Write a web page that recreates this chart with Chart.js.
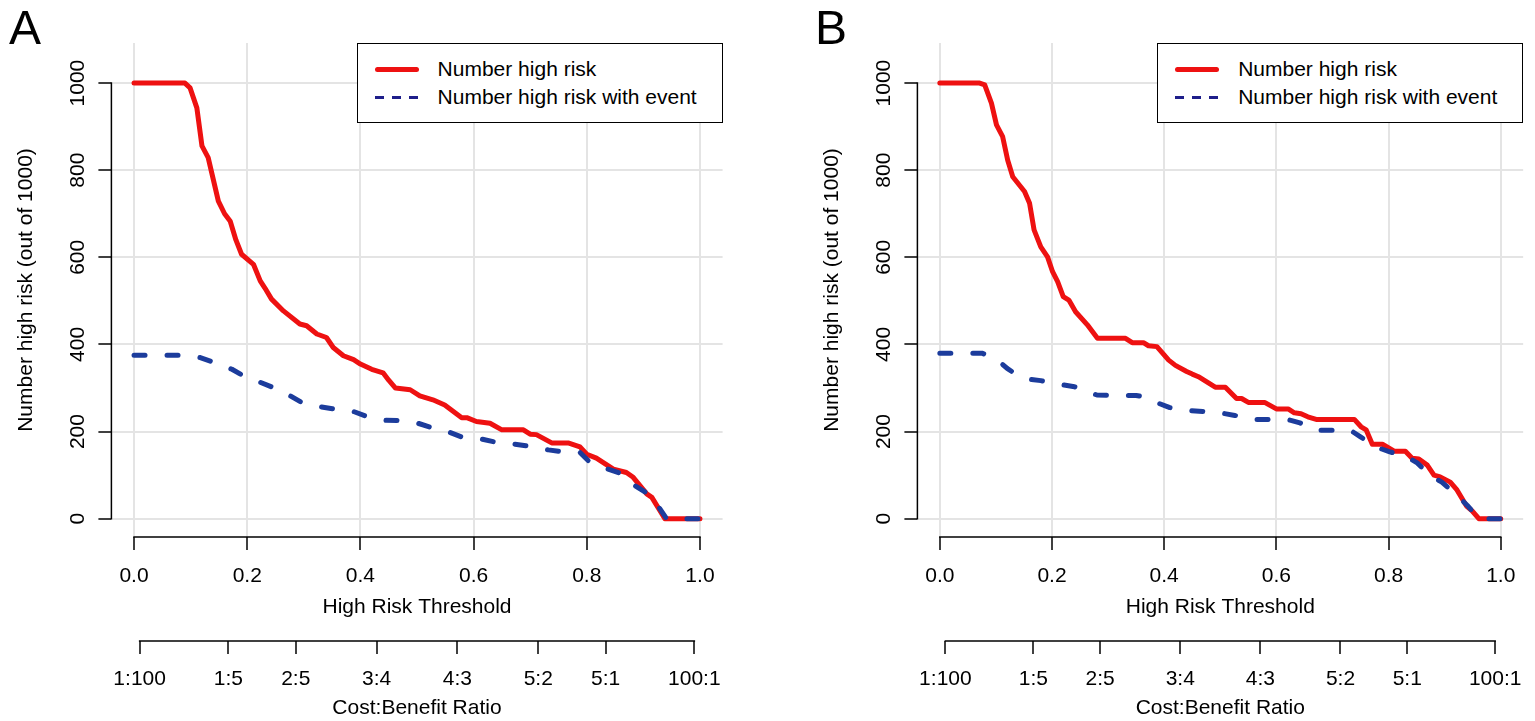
<!DOCTYPE html>
<html>
<head>
<meta charset="utf-8">
<script src="https://cdn.jsdelivr.net/npm/chart.js@4.4.1/dist/chart.umd.min.js"></script>
<style>
  html, body { margin: 0; padding: 0; background: #fff; }
  body { width: 1535px; height: 721px; position: relative; overflow: hidden; font-family: "Liberation Sans", Arial, sans-serif; color: #000; }
  .panel { position: absolute; top: 0; height: 721px; }
  .letter { position: absolute; top: 4px; font-size: 48px; line-height: 1; }
  .legend { position: absolute; top: 43px; width: 366px; height: 80px; box-sizing: border-box; border: 1.5px solid #000; background: #fff; }
  .legend .sample { position: absolute; left: 17px; width: 44px; }
  .legend .txt { position: absolute; left: 80px; font-size: 21px; line-height: 28px; white-space: nowrap; }
</style>
</head>
<body>
<div class="panel" id="panelA" style="left:0;width:767px"><canvas id="chartA"></canvas></div>
<div class="panel" id="panelB" style="left:767px;width:768px"><canvas id="chartB"></canvas></div>
<div class="letter" style="left:9px">A</div>
<div class="letter" style="left:815px">B</div>

<script>
// --- dados ---
const thrTicks = [0, 0.2, 0.4, 0.6, 0.8, 1.0];
const riskTicks = [0, 200, 400, 600, 800, 1000];
const cbTicks = [0.0099, 0.1667, 0.2857, 0.4286, 0.5714, 0.7143, 0.8333, 0.9901];
const cbLabels = ['1:100', '1:5', '2:5', '3:4', '4:3', '5:2', '5:1', '100:1'];
const seriesNames = ['Number high risk', 'Number high risk with event'];

// Painel A
const aRiskX = [0, 0.09, 0.099, 0.111, 0.120, 0.131, 0.149, 0.160, 0.170, 0.180, 0.190, 0.211, 0.223, 0.231, 0.243, 0.264, 0.293, 0.305, 0.323, 0.340, 0.352, 0.370, 0.388, 0.400, 0.420, 0.440, 0.450, 0.462, 0.488, 0.505, 0.528, 0.549, 0.579, 0.588, 0.605, 0.629, 0.650, 0.688, 0.700, 0.711, 0.738, 0.767, 0.788, 0.800, 0.817, 0.847, 0.870, 0.882, 0.906, 0.915, 0.938, 1.0];
const aRiskY = [1000, 1000, 989, 943, 856, 829, 729, 700, 683, 640, 607, 584, 546, 530, 504, 477, 447, 443, 424, 416, 393, 374, 365, 355, 343, 335, 318, 300, 296, 282, 273, 261, 232, 232, 223, 219, 204, 204, 194, 193, 174, 174, 165, 148, 139, 114, 106, 95, 57, 49, 0, 0];
const aEventX = [0, 0.086, 0.117, 0.143, 0.173, 0.193, 0.210, 0.223, 0.246, 0.276, 0.296, 0.329, 0.352, 0.388, 0.411, 0.443, 0.470, 0.502, 0.526, 0.558, 0.582, 0.614, 0.641, 0.673, 0.700, 0.732, 0.756, 0.788, 0.806, 0.837, 0.862, 0.885, 0.908, 0.929, 0.941, 1.0];
const aEventY = [375, 375, 370, 358, 343, 328, 318, 313, 301, 282, 267, 257, 252, 246, 235, 226, 225, 219, 209, 198, 186, 183, 175, 171, 166, 158, 154, 152, 129, 114, 103, 76, 57, 23, 0, 0];

// Painel B
const bRiskX = [0, 0.071, 0.080, 0.092, 0.101, 0.112, 0.121, 0.130, 0.151, 0.160, 0.168, 0.180, 0.192, 0.201, 0.210, 0.220, 0.230, 0.242, 0.263, 0.281, 0.331, 0.343, 0.363, 0.372, 0.387, 0.408, 0.420, 0.440, 0.450, 0.461, 0.491, 0.509, 0.529, 0.538, 0.550, 0.579, 0.600, 0.621, 0.632, 0.644, 0.656, 0.671, 0.739, 0.751, 0.760, 0.771, 0.789, 0.810, 0.830, 0.842, 0.854, 0.869, 0.881, 0.892, 0.910, 0.922, 0.939, 0.949, 0.961, 1.0];
const bRiskY = [1000, 1000, 996, 954, 904, 877, 823, 785, 751, 724, 663, 624, 601, 567, 544, 510, 502, 475, 445, 414, 414, 404, 404, 397, 395, 364, 352, 338, 332, 326, 302, 302, 276, 276, 267, 267, 252, 252, 243, 241, 234, 228, 228, 211, 204, 171, 171, 155, 155, 139, 137, 123, 100, 96, 84, 66, 29, 18, 0, 0];
const bEventX = [0, 0.075, 0.090, 0.105, 0.120, 0.140, 0.160, 0.180, 0.200, 0.220, 0.240, 0.260, 0.280, 0.300, 0.350, 0.370, 0.390, 0.410, 0.430, 0.470, 0.500, 0.526, 0.559, 0.585, 0.617, 0.642, 0.674, 0.732, 0.750, 0.777, 0.801, 0.833, 0.851, 0.878, 0.895, 0.922, 0.940, 0.961, 1.0];
const bEventY = [380, 380, 372, 362, 345, 328, 320, 317, 312, 307, 303, 293, 284, 283, 283, 278, 265, 255, 250, 246, 243, 237, 228, 228, 229, 220, 203, 203, 188, 165, 154, 142, 128, 96, 84, 54, 31, 0, 0];

const riskColor = '#ee1111';
const eventColor = '#1c3c9c';
const legendDashColor = '#1e1e8a';

Chart.defaults.font.family = '"Liberation Sans", Arial, sans-serif';
Chart.defaults.font.size = 21;
Chart.defaults.color = '#000';

function pts(xs, ys) {
  return xs.map((x, i) => ({ x: x, y: ys[i] }));
}

// linha do eixo só entre o primeiro e o último tick, como no R
const axisLines = {
  id: 'axisLines',
  afterDraw(chart) {
    const ctx = chart.ctx;
    ctx.save();
    ctx.strokeStyle = '#000';
    ctx.lineWidth = 1.5;
    ['x', 'x2', 'y'].forEach(id => {
      const s = chart.scales[id];
      const first = s.ticks[0].value;
      const last = s.ticks[s.ticks.length - 1].value;
      ctx.beginPath();
      if (s.isHorizontal()) {
        ctx.moveTo(s.getPixelForValue(first) - 0.75, s.top);
        ctx.lineTo(s.getPixelForValue(last) + 0.75, s.top);
      } else {
        ctx.moveTo(s.right, s.getPixelForValue(first) + 0.75);
        ctx.lineTo(s.right, s.getPixelForValue(last) - 0.75);
      }
      ctx.stroke();
    });
    ctx.restore();
  }
};

function tickGrid(onArea) {
  return { drawOnChartArea: onArea, color: '#e4e4e4', lineWidth: 2, tickColor: '#000', tickWidth: 1.5, tickLength: 13 };
}

function criarGrafico(canvasId, panelId, riskX, riskY, eventX, eventY, padLeft, padRight) {
  const chart = new Chart(document.getElementById(canvasId), {
    type: 'line',
    data: {
      datasets: [
        { label: seriesNames[0], data: pts(riskX, riskY), borderColor: riskColor, borderWidth: 5,
          pointRadius: 0, tension: 0, borderJoinStyle: 'round', borderCapStyle: 'round', order: 1 },
        { label: seriesNames[1], data: pts(eventX, eventY), borderColor: eventColor, borderWidth: 5,
          borderDash: [11, 22], pointRadius: 0, tension: 0, borderJoinStyle: 'round', borderCapStyle: 'round', order: 0 }
      ]
    },
    options: {
      responsive: true,
      maintainAspectRatio: false,
      animation: false,
      events: [],
      layout: { padding: { left: padLeft, right: padRight, top: 43, bottom: 0 } },
      plugins: { legend: { display: false }, tooltip: { enabled: false } },
      scales: {
        x: {
          type: 'linear', position: 'bottom', min: -0.04, max: 1.04, weight: 0,
          afterBuildTicks: s => { s.ticks = thrTicks.map(v => ({ value: v })); },
          afterFit: s => { s.height = 104; },
          border: { display: false },
          grid: tickGrid(true),
          ticks: { padding: 14, maxRotation: 0, autoSkip: false, callback: v => v.toFixed(1) },
          title: { display: true, text: 'High Risk Threshold', padding: { top: 0, bottom: 21 } }
        },
        x2: {
          type: 'linear', position: 'bottom', min: -0.04, max: 1.04, weight: 1,
          afterBuildTicks: s => { s.ticks = cbTicks.map(v => ({ value: v })); },
          afterFit: s => { s.height = 80; },
          border: { display: false },
          grid: tickGrid(false),
          ticks: { padding: 13, maxRotation: 0, autoSkip: false, callback: (v, i) => cbLabels[i] },
          title: { display: true, text: 'Cost:Benefit Ratio', padding: { top: 0, bottom: 0 } }
        },
        y: {
          type: 'linear', position: 'left', min: -42, max: 1092,
          afterBuildTicks: s => { s.ticks = riskTicks.map(v => ({ value: v })); },
          afterFit: s => { s.width = 111.4; },
          border: { display: false },
          grid: tickGrid(true),
          ticks: { minRotation: 90, maxRotation: 90, crossAlign: 'center', padding: -3, autoSkip: false, callback: v => String(v) },
          title: { display: true, text: 'Number high risk (out of 1000)', padding: { top: 14, bottom: 0 } }
        }
      }
    },
    plugins: [axisLines]
  });

  // legenda em HTML, no canto superior direito da área do gráfico
  const area = chart.chartArea;
  const leg = document.createElement('div');
  leg.className = 'legend';
  leg.style.left = (area.right - 366) + 'px';
  chart.data.datasets.forEach((ds, i) => {
    const yc = 25 + i * 28;
    const sample = document.createElement('div');
    sample.className = 'sample';
    if (ds.borderDash) {
      sample.style.top = (yc - 1) + 'px';
      sample.style.height = '2.5px';
      sample.style.background = 'repeating-linear-gradient(to right, ' + legendDashColor + ' 0 9px, transparent 9px 17px)';
    } else {
      sample.style.top = (yc - 2.5) + 'px';
      sample.style.height = '5px';
      sample.style.background = ds.borderColor;
      sample.style.borderRadius = '2.5px';
    }
    const txt = document.createElement('div');
    txt.className = 'txt';
    txt.style.top = (yc - 14) + 'px';
    txt.textContent = ds.label;
    leg.appendChild(sample);
    leg.appendChild(txt);
  });
  document.getElementById(panelId).appendChild(leg);
}

criarGrafico('chartA', 'panelA', aRiskX, aRiskY, aEventX, aEventY, 0, 44.4);
criarGrafico('chartB', 'panelB', bRiskX, bRiskY, bEventX, bEventY, 39, 8.4);
</script>
</body>
</html>
